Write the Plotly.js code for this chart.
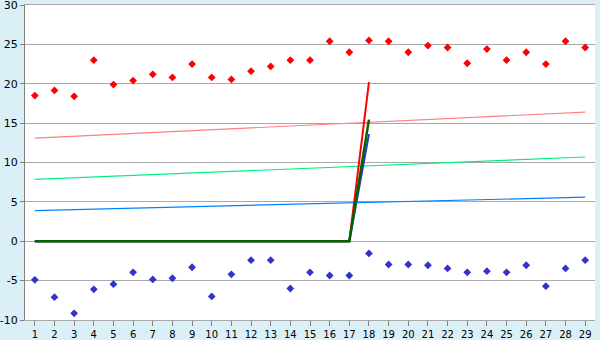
<!DOCTYPE html>
<html>
<head>
<meta charset="utf-8">
<script src="https://cdn.plot.ly/plotly-3.0.1.min.js"></script>
<style>html,body{margin:0;padding:0;background:#DAF0F6;}#chart{width:600px;height:340px;}</style>
</head>
<body>
<div id="chart"></div>
<script>
const categories = [1,2,3,4,5,6,7,8,9,10,11,12,13,14,15,16,17,18,19,20,21,22,23,24,25,26,27,28,29];
const redPoints = [18.5,19.15,18.4,23.0,19.9,20.4,21.2,20.8,22.5,20.8,20.55,21.6,22.2,23.0,23.0,25.4,24.0,25.5,25.4,24.0,24.85,24.6,22.6,24.4,23.0,24.0,22.5,25.4,24.6];
const bluePoints = [-4.9,-7.1,-9.15,-6.1,-5.45,-3.95,-4.85,-4.7,-3.3,-7.0,-4.2,-2.4,-2.4,-6.0,-3.95,-4.35,-4.35,-1.55,-2.95,-2.95,-3.05,-3.45,-3.95,-3.8,-3.95,-3.05,-5.7,-3.45,-2.4];
const redLine = [0,0,0,0,0,0,0,0,0,0,0,0,0,0,0,0,0,20.2,null,null,null,null,null,null,null,null,null,null,null];
const blueLine = [0,0,0,0,0,0,0,0,0,0,0,0,0,0,0,0,0,13.6,null,null,null,null,null,null,null,null,null,null,null];
const greenLine = [0,0,0,0,0,0,0,0,0,0,0,0,0,0,0,0,0,15.45,null,null,null,null,null,null,null,null,null,null,null];
const trendX = [1, 29];
const pinkTrend = [13.1, 16.4];
const springTrend = [7.85, 10.7];
const azureTrend = [3.9, 5.6];
const yTickVals = [-10,-5,0,5,10,15,20,25,30];
const yTickText = ["-10","-5","0","5","10","15","20","25","30"];

const traces = [
  {x: trendX, y: pinkTrend, mode: 'lines', line: {color: '#FF8080', width: 1.2}},
  {x: trendX, y: springTrend, mode: 'lines', line: {color: '#00F080', width: 1.2}},
  {x: trendX, y: azureTrend, mode: 'lines', line: {color: '#0080FF', width: 1.2}},
  {x: categories, y: redPoints, mode: 'markers', marker: {symbol: 'diamond', size: 6, color: '#FF0000'}},
  {x: categories, y: bluePoints, mode: 'markers', marker: {symbol: 'diamond', size: 6, color: '#3333CC'}},
  {x: categories, y: redLine, mode: 'lines', line: {color: '#FF0000', width: 2}},
  {x: categories, y: blueLine, mode: 'lines', line: {color: '#3333CC', width: 2}},
  {x: categories, y: greenLine, mode: 'lines', line: {color: '#006400', width: 2.5}}
];

const layout = {
  width: 600, height: 340,
  margin: {l: 25, r: 5, t: 5, b: 20, pad: 0},
  paper_bgcolor: '#DAF0F6',
  plot_bgcolor: '#FFFFFF',
  showlegend: false,
  font: {family: 'DejaVu Sans, Verdana, sans-serif', size: 10, color: '#000000'},
  xaxis: {
    range: [0.5, 29.5],
    tickvals: categories,
    ticktext: categories.map(String),
    ticks: 'outside', ticklen: 5, tickcolor: '#808080',
    showgrid: false, zeroline: false,
    showline: true, linecolor: '#A8A8A8', mirror: true, linewidth: 1,
    ticklabeloverflow: 'allow',
    tickfont: {size: 10}
  },
  yaxis: {
    range: [-10, 30],
    tickmode: 'array', tickvals: yTickVals, ticktext: yTickText,
    ticks: 'outside', ticklen: 4, tickcolor: '#808080',
    showgrid: true, gridcolor: '#A8A8A8', gridwidth: 1,
    zeroline: false,
    showline: true, linecolor: '#808080', mirror: false, linewidth: 1,
    ticklabeloverflow: 'allow',
    tickfont: {size: 11}
  }
};

Plotly.newPlot('chart', traces, layout, {staticPlot: true, displayModeBar: false});
</script>
</body>
</html>
